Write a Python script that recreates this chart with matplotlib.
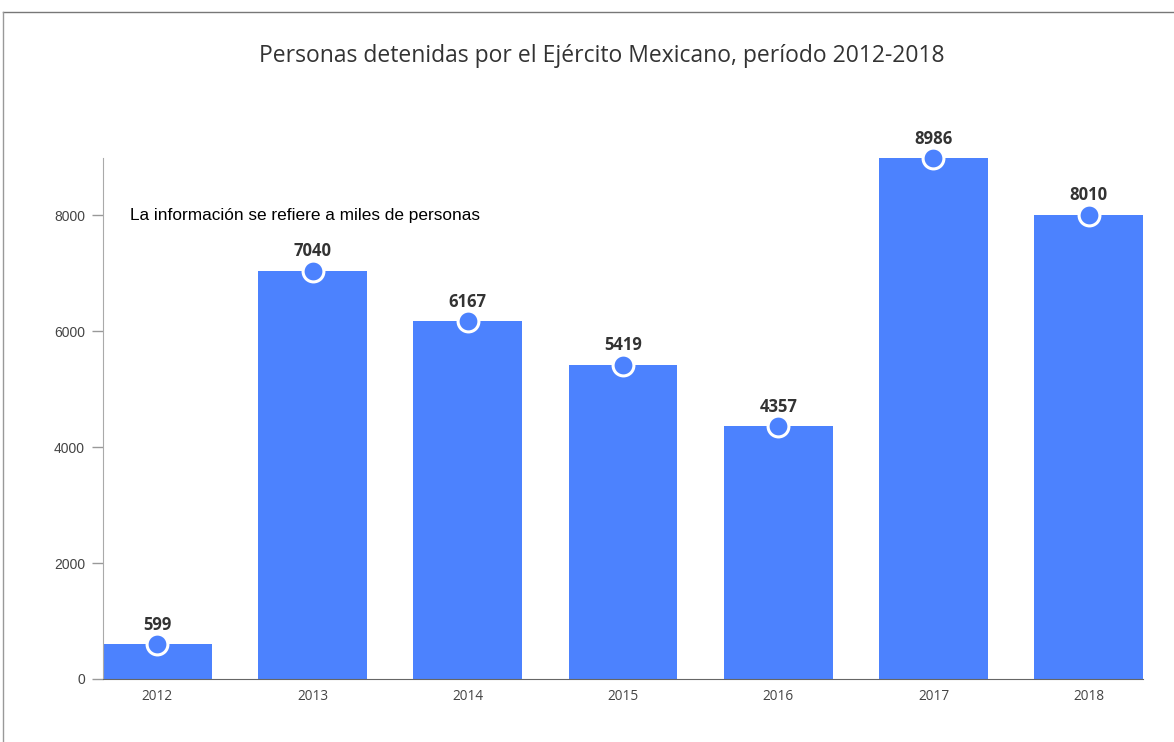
import matplotlib
matplotlib.use("Agg")
import matplotlib.pyplot as plt
from matplotlib.lines import Line2D

years = ["2012", "2013", "2014", "2015", "2016", "2017", "2018"]
values = [599, 7040, 6167, 5419, 4357, 8986, 8010]
yticks = [0, 2000, 4000, 6000, 8000]

title = "Personas detenidas por el Ejército Mexicano, período 2012-2018"
note = "La información se refiere a miles de personas"

bar_color = "#4c82fe"

fig = plt.figure(figsize=(11.74, 7.42), dpi=100)
ax = fig.add_axes([103/1174, 63/742, (1143-103)/1174, (679-158)/742])

x = list(range(len(years)))
ax.bar(x, values, width=0.70, color=bar_color, zorder=2)
ax.plot(x, values, linestyle="none", marker="o", markersize=15,
        markerfacecolor=bar_color, markeredgecolor="white", markeredgewidth=2.2,
        zorder=3, clip_on=False)
for xi, v in zip(x, values):
    ax.annotate(str(v), (xi, v), xytext=(0, 7.5), textcoords="offset points",
                ha="center", va="bottom", fontsize=12, fontweight="bold",
                color="#333333", family="Open Sans")

ax.set_xlim(-0.35, len(years) - 0.65)
ax.set_ylim(0, max(values))
ax.set_xticks(x)
ax.set_xticklabels(years, family="Open Sans", fontsize=9.8, color="#444444")
ax.set_yticks(yticks)
ax.set_yticklabels([str(t) for t in yticks], family="Liberation Sans",
                   fontsize=10, color="#444444")
ax.tick_params(axis="x", length=0, pad=7)
ax.tick_params(axis="y", length=8, width=1, color="#999999", pad=5)

for s in ["top", "right"]:
    ax.spines[s].set_visible(False)
ax.spines["left"].set_color("#aaaaaa")
ax.spines["bottom"].set_color("#666666")
ax.spines["bottom"].set_zorder(4)

ax.text(0.0260, 8000, note, transform=ax.get_yaxis_transform(),
        family="Liberation Sans", fontsize=12.4, color="black", va="center", ha="left")

fig.text(602/1174, 1 - 56/742, title, ha="center", va="center",
         family="Open Sans", fontsize=16.5, color="#333333")

fig.add_artist(Line2D([3/1174, 1], [1 - 12/742, 1 - 12/742], transform=fig.transFigure,
                      color="#777777", linewidth=1))
fig.add_artist(Line2D([3/1174, 3/1174], [0, 1 - 12/742], transform=fig.transFigure,
                      color="#999999", linewidth=1))

fig.savefig("out.png", dpi=100, facecolor="white")
